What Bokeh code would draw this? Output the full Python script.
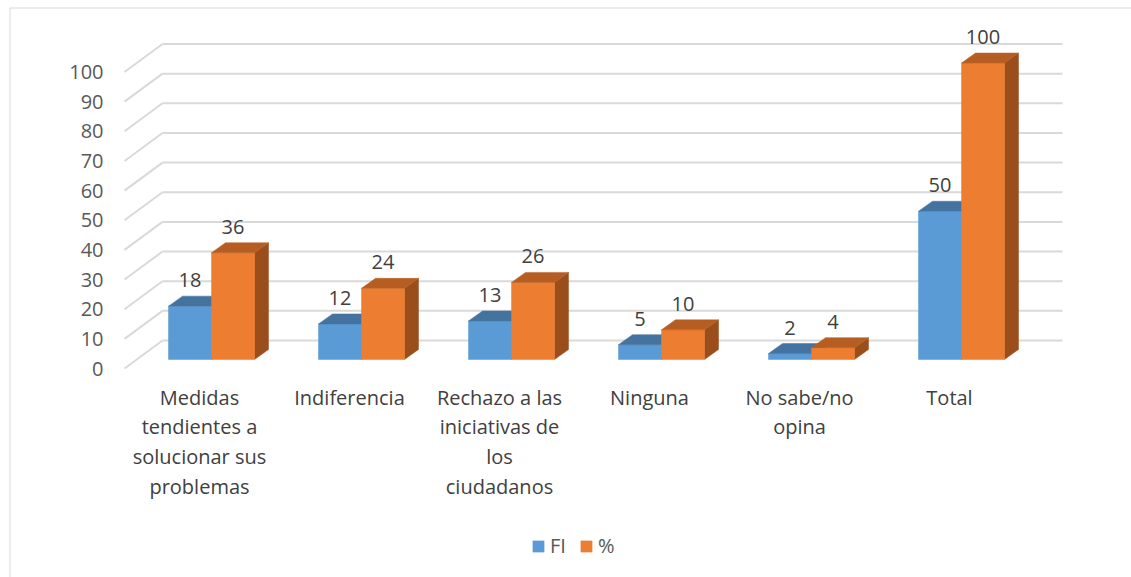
from bokeh.plotting import figure
from bokeh.models import Legend, LegendItem, Range1d, Span
from bokeh.core.properties import value
from bokeh.embed import file_html
from bokeh.resources import INLINE

# ---------------- data ----------------
categories = [
    "Medidas\ntendientes a\nsolucionar sus\nproblemas",
    "Indiferencia",
    "Rechazo a las\niniciativas de\nlos\nciudadanos",
    "Ninguna",
    "No sabe/no\nopina",
    "Total",
]
fi_values = [18, 12, 13, 5, 2, 50]
pct_values = [36, 24, 26, 10, 4, 100]
series_names = ["FI", "%"]
y_ticks = [0, 10, 20, 30, 40, 50, 60, 70, 80, 90, 100]

# ---------------- geometry / style ----------------
W, H = 1131, 577
LEFT, TOP = 9, 7                 # chart border position
PX = 150.0           # pixels per category
PY = 2.965           # pixels per value unit
XF = 124.0           # page px of front-left corner (x=0)
YF = 368.0           # page px of value 0 on front plane

DX, DY = 38 / PX, 28 / PY        # back-plane offset
BX, BY = 12 / PX, 9 / PY         # bar-plane offset
dX, dY = 14 / PX, 10 / PY        # bar depth
BW = 43 / PX                     # bar width

FONT_NAME = "Open Sans"
FONT = value(FONT_NAME)
GRID = "#d9d9d9"

blue = dict(front="#5B9BD5", top="#44739F", side="#3E6A94")
orange = dict(front="#ED7D31", top="#B65E22", side="#9A4E1C")

x_start = (LEFT - XF) / PX
y_end = (YF - TOP) / PY
p = figure(width=W, height=H, output_backend="svg", toolbar_location=None,
           x_range=Range1d(x_start, (W - XF) / PX),
           y_range=Range1d((YF - H) / PY, y_end),
           min_border_left=LEFT, min_border_top=TOP,
           min_border_right=0, min_border_bottom=0)
p.axis.visible = False
p.grid.visible = False
p.outline_line_color = None
p.background_fill_color = "white"
p.border_fill_color = "white"
p.add_layout(Span(location=x_start, dimension="height", line_color=GRID, line_width=2))
p.add_layout(Span(location=y_end, dimension="width", line_color=GRID, line_width=2))

n = len(categories)

# gridlines (back wall + diagonals)
gx, gy = [], []
for t in y_ticks:
    gx.append([DX, n + DX]); gy.append([t + DY, t + DY])
    gx.append([0, DX]); gy.append([t, t + DY])
p.multi_line(xs=gx, ys=gy, line_color=GRID, line_width=2)

# y tick labels
p.text(x=[-0.14] * len(y_ticks), y=y_ticks, text=[str(t) for t in y_ticks],
       text_font=FONT, text_font_size="20px", text_color="#595959",
       text_align="right", text_baseline="middle")


def bars(vals, offset, col):
    fx, fy, tx, ty, sx, sy = [], [], [], [], [], []
    for i, v in enumerate(vals):
        xl = i + 0.5 + BX + offset
        xr = xl + BW
        y0 = BY
        y1 = BY + v
        fx.append([xl, xr, xr, xl]); fy.append([y0, y0, y1, y1])
        tx.append([xl, xr, xr + dX, xl + dX]); ty.append([y1, y1, y1 + dY, y1 + dY])
        sx.append([xr, xr + dX, xr + dX, xr]); sy.append([y0, y0 + dY, y1 + dY, y1])
    p.patches(sx, sy, fill_color=col["side"], line_color=col["side"], line_width=0.5)
    r_front = p.patches(fx, fy, fill_color=col["front"], line_color=col["front"], line_width=0.5)
    p.patches(tx, ty, fill_color=col["top"], line_color=col["top"], line_width=0.5)
    # value labels
    p.text(x=[i + 0.5 + BX + offset + BW / 2 for i in range(n)],
           y=[BY + v + 26 / PY for v in vals],
           text=[str(v) for v in vals],
           text_font=FONT, text_font_size="20px", text_color="#404040",
           text_align="center", text_baseline="middle")
    return r_front


r_fi = bars(fi_values, -BW, blue)
r_pct = bars(pct_values, 0, orange)

# category labels
p.text(x=[i + 0.5 for i in range(n)], y=[-5.1] * n, text=categories,
       text_font=FONT, text_font_size="20px", text_color="#404040",
       text_align="center", text_baseline="top", text_line_height=1.1)

legend = Legend(items=[LegendItem(label=series_names[0], renderers=[r_fi]),
                       LegendItem(label=series_names[1], renderers=[r_pct])],
                orientation="horizontal", location=(522, 18),
                glyph_width=14, glyph_height=14, label_standoff=5, spacing=9,
                padding=0, margin=0,
                label_text_font=FONT_NAME, label_text_font_size="20px",
                label_text_color="#595959",
                border_line_color=None, background_fill_alpha=0)
p.add_layout(legend)

open("out.html", "w").write(file_html(p, INLINE))
